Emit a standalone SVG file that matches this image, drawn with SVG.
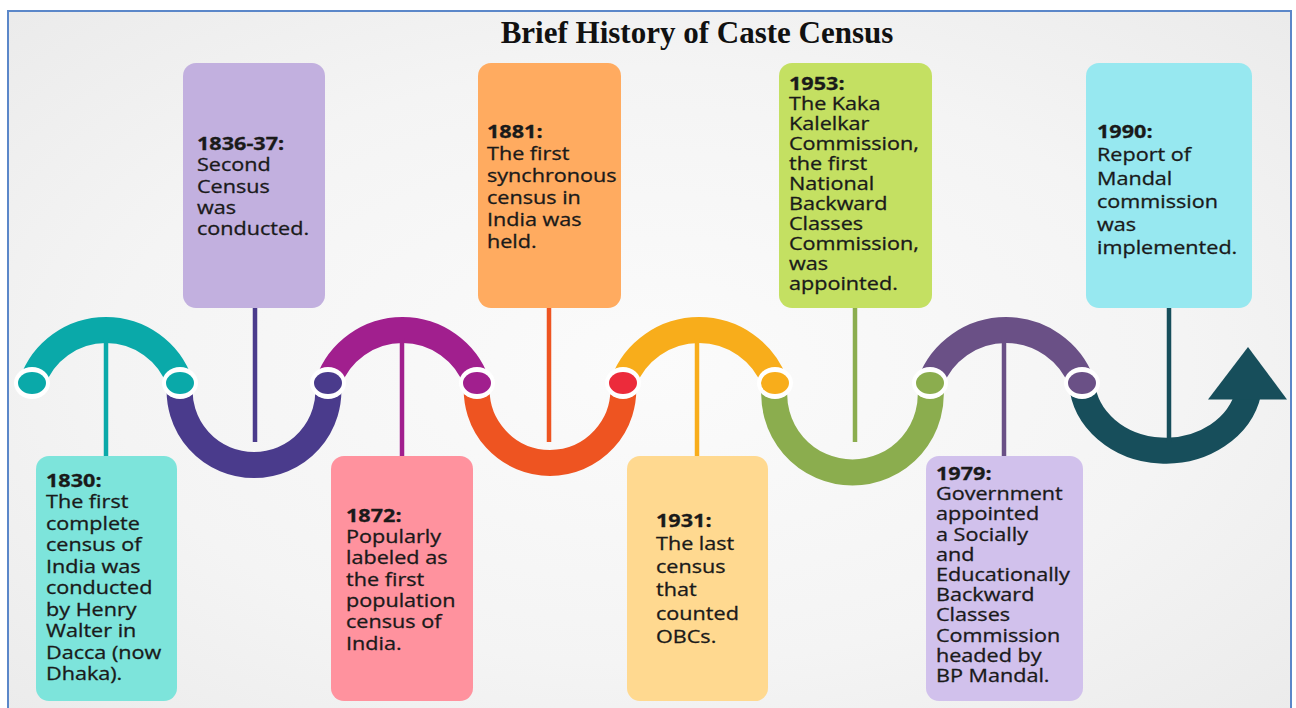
<svg xmlns="http://www.w3.org/2000/svg" width="1296" height="708" viewBox="0 0 1296 708">
  <defs>
    <radialGradient id="bg" cx="0.5" cy="0.5" r="0.7">
      <stop offset="0" stop-color="#fbfbfb"/>
      <stop offset="0.6" stop-color="#f4f4f4"/>
      <stop offset="1" stop-color="#ebebeb"/>
    </radialGradient>
  </defs>
  <style>
    .title { font-family: "Liberation Serif", "Times New Roman", serif; font-weight: bold; font-size: 31px; fill: #111; }
    .lbl { font-family: "Open Sans", "Noto Sans", "DejaVu Sans", sans-serif; font-size: 18px; fill: #1a1a1a; stroke: #1a1a1a; stroke-width: 0.3; }
    .yr { font-weight: bold; }
    .arc { fill: none; stroke-width: 26; }
    .stem { stroke-width: 4.5; }
    .ring { fill: #ffffff; }
  </style>

  <rect x="0" y="0" width="1296" height="708" fill="#ffffff"/>
  <rect x="8" y="11" width="1283" height="710" fill="url(#bg)" stroke="#5b87c9" stroke-width="2"/>

  <text class="title" x="697" y="43" text-anchor="middle">Brief History of Caste Census</text>

  <!-- timeline wave -->
  <g id="timeline">
    <path class="arc" stroke="#0aa9a9" d="M32 383 A78.2 78.2 0 0 1 180 383"/>
    <path class="arc" stroke="#4a3b8c" d="M180 383 A74.4 74.4 0 1 0 328 383"/>
    <path class="arc" stroke="#a11f8e" d="M328 383 A78.9 78.9 0 0 1 477 383"/>
    <path class="arc" stroke="#ee5421" d="M477 383 A73.3 73.3 0 1 0 623 383"/>
    <path class="arc" stroke="#f8ad1b" d="M623 383 A81 81 0 0 1 775 383"/>
    <path class="arc" stroke="#8bad4e" d="M775 383 A78.3 78.3 0 1 0 930 383"/>
    <path class="arc" stroke="#6a5086" d="M930 383 A81 81 0 0 1 1082 383"/>
    <path class="arc" stroke="#174e5b" d="M1082 383 A84 72 0 0 0 1248.4 392"/>
    <polygon fill="#174e5b" points="1248,347 1208,399.5 1287,399.5"/>
  </g>

  <!-- connectors (stems) -->
  <g id="connectors">
    <line class="stem" stroke="#0aa9a9" x1="106" y1="338" x2="106" y2="458"/>
    <line class="stem" stroke="#4a3b8c" x1="255" y1="306" x2="255" y2="442"/>
    <line class="stem" stroke="#a11f8e" x1="402" y1="338" x2="402" y2="458"/>
    <line class="stem" stroke="#ee5421" x1="549" y1="306" x2="549" y2="442"/>
    <line class="stem" stroke="#f8ad1b" x1="697" y1="338" x2="697" y2="458"/>
    <line class="stem" stroke="#8bad4e" x1="855" y1="306" x2="855" y2="442"/>
    <line class="stem" stroke="#6a5086" x1="1004" y1="338" x2="1004" y2="458"/>
    <line class="stem" stroke="#174e5b" x1="1169" y1="306" x2="1169" y2="442"/>
  </g>

  <!-- joints -->
  <g id="joints">
    <ellipse class="ring" cx="32" cy="383" rx="18" ry="16"/>
    <ellipse fill="#0aa9a9" cx="32" cy="383" rx="14" ry="11"/>
    <ellipse class="ring" cx="180" cy="383" rx="18" ry="16"/>
    <ellipse fill="#0aa9a9" cx="180" cy="383" rx="14" ry="11"/>
    <ellipse class="ring" cx="328" cy="383" rx="18" ry="16"/>
    <ellipse fill="#4a3b8c" cx="328" cy="383" rx="14" ry="11"/>
    <ellipse class="ring" cx="477" cy="383" rx="18" ry="16"/>
    <ellipse fill="#a11f8e" cx="477" cy="383" rx="14" ry="11"/>
    <ellipse class="ring" cx="623" cy="383" rx="18" ry="16"/>
    <ellipse fill="#ec2b3b" cx="623" cy="383" rx="14" ry="11"/>
    <ellipse class="ring" cx="775" cy="383" rx="18" ry="16"/>
    <ellipse fill="#f8ad1b" cx="775" cy="383" rx="14" ry="11"/>
    <ellipse class="ring" cx="930" cy="383" rx="18" ry="16"/>
    <ellipse fill="#8bad4e" cx="930" cy="383" rx="14" ry="11"/>
    <ellipse class="ring" cx="1082" cy="383" rx="18" ry="16"/>
    <ellipse fill="#6a5086" cx="1082" cy="383" rx="14" ry="11"/>
  </g>

  <g id="node-1830">
    <rect x="36" y="456" width="141" height="245" rx="13" fill="#7de4db"/>
    <text class="lbl" transform="translate(46,487) scale(1.2,1)">
      <tspan class="yr" x="0" y="0">1830:</tspan>
      <tspan x="0" dy="21.5">The first</tspan>
      <tspan x="0" dy="21.5">complete</tspan>
      <tspan x="0" dy="21.5">census of</tspan>
      <tspan x="0" dy="21.5">India was</tspan>
      <tspan x="0" dy="21.5">conducted</tspan>
      <tspan x="0" dy="21.5">by Henry</tspan>
      <tspan x="0" dy="21.5">Walter in</tspan>
      <tspan x="0" dy="21.5">Dacca (now</tspan>
      <tspan x="0" dy="21.5">Dhaka).</tspan>
    </text>
  </g>

  <g id="node-1836">
    <rect x="183" y="63" width="142" height="245" rx="13" fill="#c2b0df"/>
    <text class="lbl" transform="translate(197,150) scale(1.2,1)">
      <tspan class="yr" x="0" y="0">1836-37:</tspan>
      <tspan x="0" dy="21.3">Second</tspan>
      <tspan x="0" dy="21.3">Census</tspan>
      <tspan x="0" dy="21.3">was</tspan>
      <tspan x="0" dy="21.3">conducted.</tspan>
    </text>
  </g>

  <g id="node-1872">
    <rect x="331" y="456" width="142" height="245" rx="13" fill="#ff929e"/>
    <text class="lbl" transform="translate(346,521.5) scale(1.2,1)">
      <tspan class="yr" x="0" y="0">1872:</tspan>
      <tspan x="0" dy="21.4">Popularly</tspan>
      <tspan x="0" dy="21.4">labeled as</tspan>
      <tspan x="0" dy="21.4">the first</tspan>
      <tspan x="0" dy="21.4">population</tspan>
      <tspan x="0" dy="21.4">census of</tspan>
      <tspan x="0" dy="21.4">India.</tspan>
    </text>
  </g>

  <g id="node-1881">
    <rect x="478" y="63" width="143" height="245" rx="13" fill="#ffab60"/>
    <text class="lbl" transform="translate(487,138) scale(1.2,1)">
      <tspan class="yr" x="0" y="0">1881:</tspan>
      <tspan x="0" dy="22">The first</tspan>
      <tspan x="0" dy="22">synchronous</tspan>
      <tspan x="0" dy="22">census in</tspan>
      <tspan x="0" dy="22">India was</tspan>
      <tspan x="0" dy="22">held.</tspan>
    </text>
  </g>

  <g id="node-1931">
    <rect x="627" y="456" width="141" height="245" rx="13" fill="#ffd990"/>
    <text class="lbl" transform="translate(656,526.5) scale(1.2,1)">
      <tspan class="yr" x="0" y="0">1931:</tspan>
      <tspan x="0" dy="23.3">The last</tspan>
      <tspan x="0" dy="23.3">census</tspan>
      <tspan x="0" dy="23.3">that</tspan>
      <tspan x="0" dy="23.3">counted</tspan>
      <tspan x="0" dy="23.3">OBCs.</tspan>
    </text>
  </g>

  <g id="node-1953">
    <rect x="779" y="63" width="153" height="245" rx="13" fill="#c4e062"/>
    <text class="lbl" transform="translate(789,90) scale(1.2,1)">
      <tspan class="yr" x="0" y="0">1953:</tspan>
      <tspan x="0" dy="20">The Kaka</tspan>
      <tspan x="0" dy="20">Kalelkar</tspan>
      <tspan x="0" dy="20">Commission,</tspan>
      <tspan x="0" dy="20">the first</tspan>
      <tspan x="0" dy="20">National</tspan>
      <tspan x="0" dy="20">Backward</tspan>
      <tspan x="0" dy="20">Classes</tspan>
      <tspan x="0" dy="20">Commission,</tspan>
      <tspan x="0" dy="20">was</tspan>
      <tspan x="0" dy="20">appointed.</tspan>
    </text>
  </g>

  <g id="node-1979">
    <rect x="926" y="456" width="157" height="245" rx="13" fill="#d1c1ec"/>
    <text class="lbl" transform="translate(936,480) scale(1.2,1)">
      <tspan class="yr" x="0" y="0">1979:</tspan>
      <tspan x="0" dy="20.2">Government</tspan>
      <tspan x="0" dy="20.2">appointed</tspan>
      <tspan x="0" dy="20.2">a Socially</tspan>
      <tspan x="0" dy="20.2">and</tspan>
      <tspan x="0" dy="20.2">Educationally</tspan>
      <tspan x="0" dy="20.2">Backward</tspan>
      <tspan x="0" dy="20.2">Classes</tspan>
      <tspan x="0" dy="20.2">Commission</tspan>
      <tspan x="0" dy="20.2">headed by</tspan>
      <tspan x="0" dy="20.2">BP Mandal.</tspan>
    </text>
  </g>

  <g id="node-1990">
    <rect x="1086" y="63" width="166" height="245" rx="13" fill="#97e8f0"/>
    <text class="lbl" transform="translate(1097,138) scale(1.2,1)">
      <tspan class="yr" x="0" y="0">1990:</tspan>
      <tspan x="0" dy="23.3">Report of</tspan>
      <tspan x="0" dy="23.3">Mandal</tspan>
      <tspan x="0" dy="23.3">commission</tspan>
      <tspan x="0" dy="23.3">was</tspan>
      <tspan x="0" dy="23.3">implemented.</tspan>
    </text>
  </g>
</svg>
